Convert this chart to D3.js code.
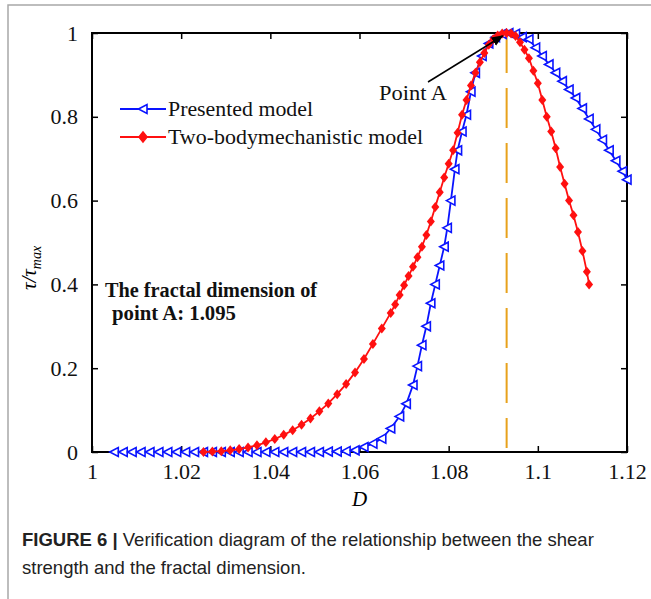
<!DOCTYPE html>
<html>
<head>
<meta charset="utf-8">
<script src="https://cdn.jsdelivr.net/npm/d3@7"></script>
<style>
  body { margin: 0; background: #fff; }
  svg { display: block; }
</style>
</head>
<body>
<div id="chart"></div>
<script>
// Presented model (blue)
const presentedD = [1.005, 1.007, 1.009, 1.011, 1.013, 1.015, 1.017, 1.019, 1.021, 1.023,
  1.025, 1.027, 1.029, 1.031, 1.033, 1.035, 1.037, 1.039, 1.041, 1.043, 1.045, 1.047,
  1.049, 1.051, 1.053, 1.055, 1.057, 1.059, 1.061, 1.063, 1.065, 1.067, 1.069, 1.0705,
  1.072, 1.073, 1.074, 1.075, 1.076, 1.077, 1.078, 1.079, 1.0797, 1.0805, 1.0814, 1.082,
  1.083, 1.084, 1.085, 1.086, 1.0875, 1.089, 1.0905, 1.092, 1.0935, 1.095, 1.0965, 1.098,
  1.0995, 1.101, 1.1025, 1.104, 1.1055, 1.107, 1.1085, 1.11, 1.1115, 1.113, 1.1145, 1.116,
  1.1175, 1.119, 1.12];
const presentedT = [0, 0, 0, 0, 0, 0, 0, 0, 0, 0,
  0, 0, 0, 0, 0, 0, 0, 0, 0, 0, 0, 0,
  0, 0, 0.001, 0.001, 0.002, 0.004, 0.012, 0.02, 0.032, 0.056, 0.085, 0.115,
  0.16, 0.205, 0.255, 0.3, 0.355, 0.4, 0.445, 0.49, 0.535, 0.6, 0.675, 0.72,
  0.765, 0.805, 0.86, 0.905, 0.945, 0.975, 0.99, 0.998, 1.0, 0.998, 0.99, 0.985,
  0.965, 0.945, 0.925, 0.905, 0.885, 0.865, 0.845, 0.82, 0.795, 0.77, 0.745, 0.72,
  0.695, 0.67, 0.65];

// Two-body mechanistic model (red)
const mechD = [1.025, 1.027, 1.029, 1.031, 1.033, 1.035, 1.037, 1.039, 1.041, 1.043,
  1.045, 1.047, 1.049, 1.051, 1.053, 1.055, 1.057, 1.059, 1.061, 1.063, 1.065, 1.067,
  1.068, 1.069, 1.07, 1.071, 1.072, 1.073, 1.074, 1.075, 1.076, 1.077, 1.078, 1.079,
  1.08, 1.081, 1.082, 1.083, 1.084, 1.085, 1.086, 1.087, 1.088, 1.089, 1.09, 1.091,
  1.092, 1.093, 1.094, 1.095, 1.096, 1.097, 1.098, 1.099, 1.1, 1.101, 1.102, 1.103,
  1.104, 1.105, 1.106, 1.107, 1.108, 1.109, 1.11, 1.111, 1.1115];
const mechT = [0, 0.001, 0.002, 0.004, 0.007, 0.011, 0.016, 0.023, 0.031, 0.041,
  0.052, 0.065, 0.08, 0.097, 0.116, 0.138, 0.162, 0.19, 0.222, 0.258, 0.295, 0.332,
  0.352, 0.375, 0.398, 0.42, 0.442, 0.465, 0.49, 0.518, 0.55, 0.585, 0.62, 0.655,
  0.688, 0.72, 0.762, 0.805, 0.84, 0.875, 0.905, 0.93, 0.952, 0.972, 0.985, 0.994,
  0.999, 1.0, 0.999, 0.993, 0.978, 0.96, 0.94, 0.91, 0.88, 0.84, 0.8, 0.765,
  0.725, 0.68, 0.64, 0.6, 0.565, 0.525, 0.48, 0.43, 0.4];

const xTicks = [1, 1.02, 1.04, 1.06, 1.08, 1.1, 1.12];
const xTickLabels = ["1", "1.02", "1.04", "1.06", "1.08", "1.1", "1.12"];
const yTicks = [0, 0.2, 0.4, 0.6, 0.8, 1];
const yTickLabels = ["0", "0.2", "0.4", "0.6", "0.8", "1"];
const pointA = 1.093;

const seriesNames = ["Presented model", "Two-bodymechanistic model"];
const captionBold = "FIGURE 6 |";
const captionLine1 = " Verification diagram of the relationship between the shear";
const captionLine2 = "strength and the fractal dimension.";

const width = 651, height = 599;
const plotLeft = 92, plotRight = 627, plotTop = 33, plotBottom = 452;
const serif = "'Liberation Serif', 'Times New Roman', serif";

const svg = d3.select("#chart").append("svg")
  .attr("width", width)
  .attr("height", height);

// grey frame of the figure panel
svg.append("path")
  .attr("d", `M8,${height} L8,5 L${width},5`)
  .attr("fill", "none")
  .attr("stroke", "#a8a8a8")
  .attr("stroke-width", 1.5);

const x = d3.scaleLinear().domain([1, 1.12]).range([plotLeft, plotRight]);
const y = d3.scaleLinear().domain([0, 1]).range([plotBottom, plotTop]);

// axes with inward ticks
const xAxis = svg.append("g")
  .attr("transform", `translate(0,${plotBottom})`)
  .call(d3.axisBottom(x).tickValues(xTicks).tickSizeInner(-6).tickSizeOuter(0)
    .tickPadding(12).tickFormat((d, i) => xTickLabels[i]));
svg.append("g")
  .attr("transform", `translate(0,${plotTop})`)
  .call(d3.axisTop(x).tickValues(xTicks).tickSizeInner(-6).tickSizeOuter(0).tickFormat(""));
const yAxis = svg.append("g")
  .attr("transform", `translate(${plotLeft},0)`)
  .call(d3.axisLeft(y).tickValues(yTicks).tickSizeInner(-6).tickSizeOuter(0)
    .tickPadding(12).tickFormat((d, i) => yTickLabels[i]));
svg.append("g")
  .attr("transform", `translate(${plotRight},0)`)
  .call(d3.axisRight(y).tickValues(yTicks).tickSizeInner(-6).tickSizeOuter(0).tickFormat(""));

svg.selectAll(".domain").remove();
svg.selectAll(".tick line").attr("stroke", "#000").attr("stroke-width", 1.5);
svg.selectAll(".tick text")
  .attr("font-family", serif)
  .attr("font-size", 22)
  .attr("fill", "#111");
xAxis.selectAll(".tick text").attr("dy", "0.68em");
yAxis.selectAll(".tick text").attr("dx", -2);

svg.append("rect")
  .attr("x", plotLeft).attr("y", plotTop)
  .attr("width", plotRight - plotLeft).attr("height", plotBottom - plotTop)
  .attr("fill", "none")
  .attr("stroke", "#000")
  .attr("stroke-width", 2);

// vertical dashed line at point A
svg.append("line")
  .attr("x1", x(pointA)).attr("x2", x(pointA))
  .attr("y1", y(1)).attr("y2", y(0) - 4)
  .attr("stroke", "#e8a21c")
  .attr("stroke-width", 2)
  .attr("stroke-dasharray", "40,15");

const line = d3.line().x(d => x(d[0])).y(d => y(d[1]));

const blue = d3.zip(presentedD, presentedT);
const red = d3.zip(mechD, mechT);

const triangle = "M-4.5,0 L4,-4.5 L4,4.5 Z";
const diamond = "M0,-5 L4,0 L0,5 L-4,0 Z";

svg.append("path")
  .datum(blue)
  .attr("d", line)
  .attr("fill", "none")
  .attr("stroke", "#0a14ff")
  .attr("stroke-width", 1.8);

svg.append("g").selectAll("path")
  .data(blue)
  .join("path")
  .attr("transform", d => `translate(${x(d[0])},${y(d[1])})`)
  .attr("d", triangle)
  .attr("fill", "#fff")
  .attr("stroke", "#0a14ff")
  .attr("stroke-width", 1.6);

svg.append("path")
  .datum(red)
  .attr("d", line)
  .attr("fill", "none")
  .attr("stroke", "#ff1010")
  .attr("stroke-width", 1.8);

svg.append("g").selectAll("path")
  .data(red)
  .join("path")
  .attr("transform", d => `translate(${x(d[0])},${y(d[1])})`)
  .attr("d", diamond)
  .attr("fill", "#ff1010");

// legend
const legend = [
  { name: seriesNames[0], color: "#0a14ff", shape: triangle, fill: "#fff", ly: 109, len: 145 },
  { name: seriesNames[1], color: "#ff1010", shape: diamond, fill: "#ff1010", ly: 137, len: 255 }
];
const lg = svg.append("g");
legend.forEach(d => {
  lg.append("line")
    .attr("x1", 120).attr("x2", 166)
    .attr("y1", d.ly).attr("y2", d.ly)
    .attr("stroke", d.color).attr("stroke-width", 1.8);
  lg.append("path")
    .attr("transform", `translate(143,${d.ly})`)
    .attr("d", d.shape)
    .attr("fill", d.fill)
    .attr("stroke", d.color)
    .attr("stroke-width", 1.6);
  lg.append("text")
    .attr("x", 168).attr("y", d.ly + 7)
    .attr("font-family", serif)
    .attr("font-size", 21)
    .attr("textLength", d.len)
    .attr("lengthAdjust", "spacingAndGlyphs")
    .attr("fill", "#111")
    .text(d.name);
});

// annotation for point A
const defs = svg.append("defs");
defs.append("marker")
  .attr("id", "arrow")
  .attr("viewBox", "0 0 10 10")
  .attr("refX", 9).attr("refY", 5)
  .attr("markerWidth", 8).attr("markerHeight", 8)
  .attr("orient", "auto")
  .append("path")
  .attr("d", "M0,1 L10,5 L0,9 Z")
  .attr("fill", "#000");

svg.append("line")
  .attr("x1", 428).attr("y1", 82)
  .attr("x2", x(pointA) - 4).attr("y2", y(1) + 3)
  .attr("stroke", "#000")
  .attr("stroke-width", 1.5)
  .attr("marker-end", "url(#arrow)");

svg.append("text")
  .attr("x", 379).attr("y", 100)
  .attr("font-family", serif)
  .attr("font-size", 20)
  .attr("textLength", 68)
  .attr("lengthAdjust", "spacingAndGlyphs")
  .attr("fill", "#111")
  .text("Point A");

const note = svg.append("text")
  .attr("font-family", serif)
  .attr("font-size", 20)
  .attr("font-weight", "bold")
  .attr("fill", "#111");
note.append("tspan").attr("x", 105).attr("y", 297)
  .attr("textLength", 212).attr("lengthAdjust", "spacingAndGlyphs")
  .text("The fractal dimension of");
note.append("tspan").attr("x", 112).attr("y", 320)
  .attr("textLength", 124).attr("lengthAdjust", "spacingAndGlyphs")
  .text("point A: 1.095");

// axis titles
svg.append("text")
  .attr("x", x(1.06)).attr("y", 506)
  .attr("text-anchor", "middle")
  .attr("font-family", serif)
  .attr("font-style", "italic")
  .attr("font-size", 21)
  .text("D");

const yl = svg.append("text")
  .attr("transform", `translate(36,268) rotate(-90)`)
  .attr("text-anchor", "middle")
  .attr("font-family", serif)
  .attr("font-style", "italic")
  .attr("font-size", 21);
yl.append("tspan").text("τ/τ");
yl.append("tspan").attr("font-size", 14).attr("dy", 5).text("max");

// caption
const cap = svg.append("text")
  .attr("font-family", "'Liberation Sans', Arial, sans-serif")
  .attr("font-size", 18.5)
  .attr("fill", "#222");
cap.append("tspan").attr("x", 22).attr("y", 546).attr("font-weight", "bold").text(captionBold);
cap.append("tspan").text(captionLine1);
cap.append("tspan").attr("x", 22).attr("y", 574).text(captionLine2);
</script>
</body>
</html>
